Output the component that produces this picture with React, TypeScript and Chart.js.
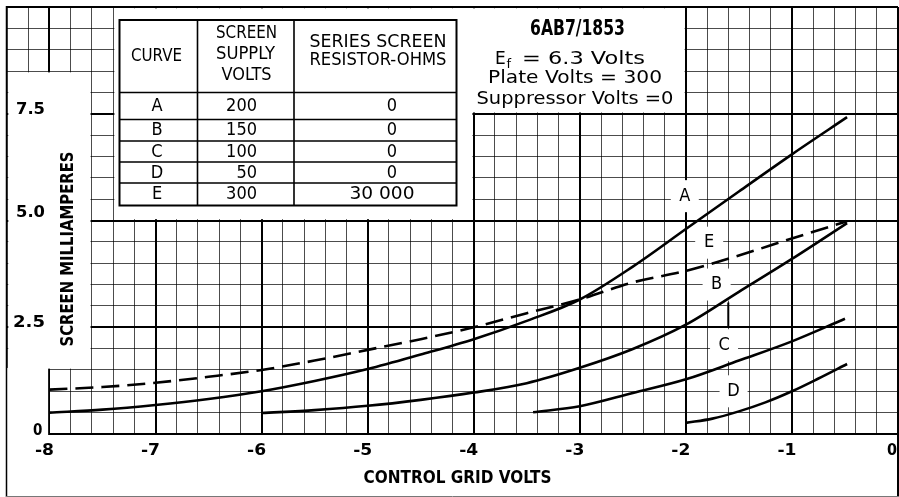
import React, { useEffect, useRef } from 'react';
import { Chart, registerables } from 'chart.js';

Chart.register(...registerables);

// ---- data ----
const curveAGrid = [-8, -7.5, -7, -6.5, -6, -5.5, -5, -4.5, -4, -3.5, -3, -2.5, -2, -1.5, -1, -0.48];
const curveAMa = [0.5, 0.57, 0.68, 0.82, 1.0, 1.24, 1.52, 1.86, 2.22, 2.65, 3.15, 3.92, 4.8, 5.68, 6.55, 7.42];
const curveBGrid = [-6, -5.5, -5, -4.5, -4, -3.5, -3, -2.5, -2, -1.5, -1, -0.48];
const curveBMa = [0.49, 0.56, 0.66, 0.8, 0.97, 1.19, 1.55, 1.99, 2.56, 3.33, 4.1, 4.94];
const curveCGrid = [-3.44, -3, -2.5, -2, -1.5, -1, -0.5];
const curveCMa = [0.51, 0.65, 0.96, 1.28, 1.72, 2.17, 2.7];
const curveDGrid = [-2, -1.75, -1.5, -1.25, -1, -0.75, -0.48];
const curveDMa = [0.26, 0.36, 0.53, 0.74, 1.0, 1.3, 1.64];
const curveEGrid = [-8, -7.5, -7, -6.5, -6, -5.5, -5, -4.5, -4, -3.5, -3, -2.5, -2, -1.5, -1, -0.48];
const curveEMa = [1.04, 1.1, 1.2, 1.34, 1.5, 1.72, 1.97, 2.22, 2.5, 2.83, 3.15, 3.55, 3.82, 4.18, 4.58, 4.98];

const xTickValues = [-8, -7, -6, -5, -4, -3, -2, -1, 0];
const xTickLabels = ['-8', '-7', '-6', '-5', '-4', '-3', '-2', '-1', '0'];
const yTickValues = [7.5, 5.0, 2.5, 0];
const yTickLabels = ['7.5', '5.0', '2.5', '0'];

const curveNames = ['A', 'B', 'C', 'D', 'E'];
const supplyVolts = ['200', '150', '100', '50', '300'];
const resistorOhms = ['0', '0', '0', '0', '30 000'];

const titleText = '6AB7/1853';
const xTitle = 'CONTROL GRID VOLTS';
const yTitle = 'SCREEN MILLIAMPERES';

// ---- layout ----
const NARROW = "'Liberation Sans Narrow', 'DejaVu Sans Condensed', 'Liberation Sans', sans-serif";
const PLAIN = "'DejaVu Sans', 'Liberation Sans', sans-serif";
const curveLabelPos: Record<string, [number, number]> = {
  A: [-2.01, 5.57],
  E: [-1.78, 4.48],
  B: [-1.71, 3.5],
  C: [-1.64, 2.08],
  D: [-1.55, 1.0],
};

const pts = (xs: number[], ys: number[]) => xs.map((x, i) => ({ x, y: ys[i] }));
const isMajorX = (v: number) => Math.abs(v - Math.round(v)) < 1e-6;
const isMajorY = (v: number) => Math.abs(v / 2.5 - Math.round(v / 2.5)) < 1e-6;

function fitText(ctx: CanvasRenderingContext2D, text: string, x: number, y: number, width: number | null, font: string, align: CanvasTextAlign = 'center') {
  ctx.save();
  ctx.font = font;
  const w = ctx.measureText(text).width;
  const sx = width ? width / w : 1;
  ctx.translate(x, y);
  ctx.scale(sx, 1);
  ctx.textAlign = align;
  ctx.textBaseline = 'middle';
  ctx.fillStyle = '#000';
  ctx.fillText(text, 0, 0);
  ctx.restore();
}

const paperPlugin = {
  id: 'paper',
  beforeDraw(chart: any) {
    const { ctx, width, height } = chart;
    ctx.save();
    ctx.fillStyle = '#fff';
    ctx.fillRect(0, 0, width, height);
    ctx.restore();
  },
  beforeDatasetsDraw(chart: any) {
    const { ctx, chartArea } = chart;
    const xs = chart.scales.x;
    const ys = chart.scales.y;
    const px = (v: number) => xs.getPixelForValue(v);
    const py = (v: number) => ys.getPixelForValue(v);
    const ins = 1.3;
    const rectD = (x1: number, x2: number, y1: number, y2: number) => {
      const L = px(x1) + ins, R = px(x2) - ins, T = py(y2) + ins, B = py(y1) - ins;
      ctx.fillRect(L, T, R - L, B - T);
    };
    ctx.save();
    ctx.fillStyle = '#fff';
    // axis-title area on the left
    rectD(-8.4, -7.6, 1.5, 8.5);
    ctx.fillRect(chartArea.left, py(1.5) - 2, px(-8) - ins - chartArea.left, py(0) + 4 - py(1.5));
    // table area and title area
    rectD(-7.4, -4.0, 5.0, 10);
    rectD(-4.0, -2.0, 7.5, 10);
    ctx.fillRect(px(-4.0) - 2, py(10) + ins, 4, py(7.5) - py(10) - 2 * ins);
    // curve-label patches
    for (const k of Object.keys(curveLabelPos)) {
      const [cx, cy] = curveLabelPos[k];
      const X = px(cx), Y = py(cy);
      ctx.fillRect(X - 14, Y - 16, 28, 32);
    }
    ctx.restore();

    // curve letters
    for (const k of Object.keys(curveLabelPos)) {
      const [cx, cy] = curveLabelPos[k];
      fitText(ctx, k, px(cx), py(cy), null, `18px ${NARROW}`);
    }

    // frame
    ctx.save();
    ctx.strokeStyle = '#000';
    ctx.lineWidth = 1.5;
    ctx.beginPath();
    ctx.moveTo(6.5, chartArea.top - 1);
    ctx.lineTo(6.5, 497);
    ctx.stroke();
    ctx.lineWidth = 2;
    ctx.beginPath();
    ctx.moveTo(chartArea.right, chartArea.top);
    ctx.lineTo(chartArea.right, 497);
    ctx.stroke();
    ctx.lineWidth = 1;
    ctx.strokeStyle = '#777';
    ctx.beginPath();
    ctx.moveTo(6, 496.5);
    ctx.lineTo(899, 496.5);
    ctx.stroke();
    // leader mark under B
    ctx.strokeStyle = '#000';
    ctx.lineWidth = 2;
    ctx.beginPath();
    ctx.moveTo(px(-1.6), py(3.08));
    ctx.lineTo(px(-1.6), py(2.5));
    ctx.stroke();
    ctx.restore();

    // table
    const tL = 119.5, tR = 456.5, tT = 20, tB = 205.5;
    const c1 = 197.5, c2 = 294;
    const hB = 92.5;
    const rows = [hB, 119.5, 141, 162, 183, tB];
    ctx.save();
    ctx.strokeStyle = '#000';
    ctx.lineWidth = 2;
    ctx.strokeRect(tL, tT, tR - tL, tB - tT);
    ctx.lineWidth = 1.6;
    ctx.beginPath();
    ctx.moveTo(c1, tT); ctx.lineTo(c1, tB);
    ctx.moveTo(c2, tT); ctx.lineTo(c2, tB);
    for (let i = 0; i < rows.length - 1; i++) {
      ctx.moveTo(tL, rows[i]); ctx.lineTo(tR, rows[i]);
    }
    ctx.stroke();
    ctx.restore();

    const f18 = `18px ${NARROW}`;
    fitText(ctx, 'CURVE', 156.5, 56, 51, f18);
    fitText(ctx, 'SCREEN', 246.5, 33.5, 61, f18);
    fitText(ctx, 'SUPPLY', 245.5, 54, 59, f18);
    fitText(ctx, 'VOLTS', 246.5, 75, 50, f18);
    fitText(ctx, 'SERIES SCREEN', 378, 42, 137, f18);
    fitText(ctx, 'RESISTOR-OHMS', 378, 60, 137, f18);
    for (let i = 0; i < curveNames.length; i++) {
      const cy = (rows[i] + rows[i + 1]) / 2 + 0.5;
      fitText(ctx, curveNames[i], 157, cy, null, f18);
      fitText(ctx, supplyVolts[i], 257, cy, null, f18, 'right');
      fitText(ctx, resistorOhms[i], resistorOhms[i].length > 1 ? 382 : 392, cy, resistorOhms[i].length > 1 ? 65 : null, f18);
    }

    // title box
    fitText(ctx, titleText, 577.5, 29.5, 95, `bold 21px ${NARROW}`);
    fitText(ctx, 'E', 495, 59.5, null, `17px ${PLAIN}`, 'left');
    fitText(ctx, 'f', 506.5, 65, null, `13px ${PLAIN}`, 'left');
    fitText(ctx, '= 6.3 Volts', 583.5, 59.5, 123, `17px ${PLAIN}`);
    fitText(ctx, 'Plate Volts = 300', 575, 79, 174, `17px ${PLAIN}`);
    fitText(ctx, 'Suppressor Volts =0', 575, 99.5, 197, `17px ${PLAIN}`);

    // y labels
    const yOff = [4, 7, 4, 3];
    const yLeft = [16, 16, 13, 33];
    const yW = [29, 29, 32, null];
    for (let i = 0; i < yTickValues.length; i++) {
      fitText(ctx, yTickLabels[i], yLeft[i], py(yTickValues[i]) - yOff[i], yW[i], `bold 15px ${NARROW}`, 'left');
    }
    // y title
    ctx.save();
    ctx.translate(68.5, 249);
    ctx.rotate(-Math.PI / 2);
    fitText(ctx, yTitle, 0, 0, 195, `bold 17px ${NARROW}`);
    ctx.restore();

    // x labels
    for (let i = 0; i < xTickValues.length; i++) {
      const v = xTickValues[i];
      const right = v === 0 ? 897 : px(v) + 4.5;
      fitText(ctx, xTickLabels[i], right, 451, v === 0 ? null : 19, `bold 16px ${NARROW}`, 'right');
    }
    fitText(ctx, xTitle, 457.5, 478.5, 188, `bold 17px ${NARROW}`);
  },
};

export default function App() {
  const ref = useRef<HTMLCanvasElement>(null);
  useEffect(() => {
    const canvas = ref.current;
    if (!canvas) return;
    const base = { borderColor: '#000', borderWidth: 2.6, pointRadius: 0, fill: false, cubicInterpolationMode: 'monotone' as const };
    const chart = new Chart(canvas, {
      type: 'line',
      data: {
        datasets: [
          { ...base, label: 'A', data: pts(curveAGrid, curveAMa) },
          { ...base, label: 'B', data: pts(curveBGrid, curveBMa) },
          { ...base, label: 'C', data: pts(curveCGrid, curveCMa) },
          { ...base, label: 'D', data: pts(curveDGrid, curveDMa) },
          { ...base, label: 'E', data: pts(curveEGrid, curveEMa), borderDash: [18, 8] },
        ],
      },
      options: {
        responsive: false,
        animation: false,
        devicePixelRatio: 1,
        layout: { padding: { left: 7, top: 7, right: 1, bottom: 63 } },
        plugins: { legend: { display: false }, tooltip: { enabled: false } },
        scales: {
          x: {
            type: 'linear',
            min: -8.4,
            max: 0,
            ticks: { display: false, stepSize: 0.2, autoSkip: false },
            grid: {
              drawTicks: false,
              color: (c: any) => (c.tick && isMajorX(c.tick.value) ? '#000' : 'rgba(0,0,0,0.7)'),
              lineWidth: (c: any) => (c.tick && isMajorX(c.tick.value) ? 2 : 1),
            },
            border: { display: false },
          },
          y: {
            type: 'linear',
            min: 0,
            max: 10,
            ticks: { display: false, stepSize: 0.5, autoSkip: false },
            grid: {
              drawTicks: false,
              color: (c: any) => (c.tick && isMajorY(c.tick.value) ? '#000' : 'rgba(0,0,0,0.7)'),
              lineWidth: (c: any) => (c.tick && isMajorY(c.tick.value) ? 2 : 1),
            },
            border: { display: false },
          },
        },
      },
      plugins: [paperPlugin],
    });
    return () => chart.destroy();
  }, []);
  return (
    <div style={{ position: 'absolute', left: 0, top: 0, width: 899, height: 497, background: '#fff' }}>
      <canvas ref={ref} width={899} height={497} style={{ display: 'block', width: 899, height: 497 }} />
    </div>
  );
}
